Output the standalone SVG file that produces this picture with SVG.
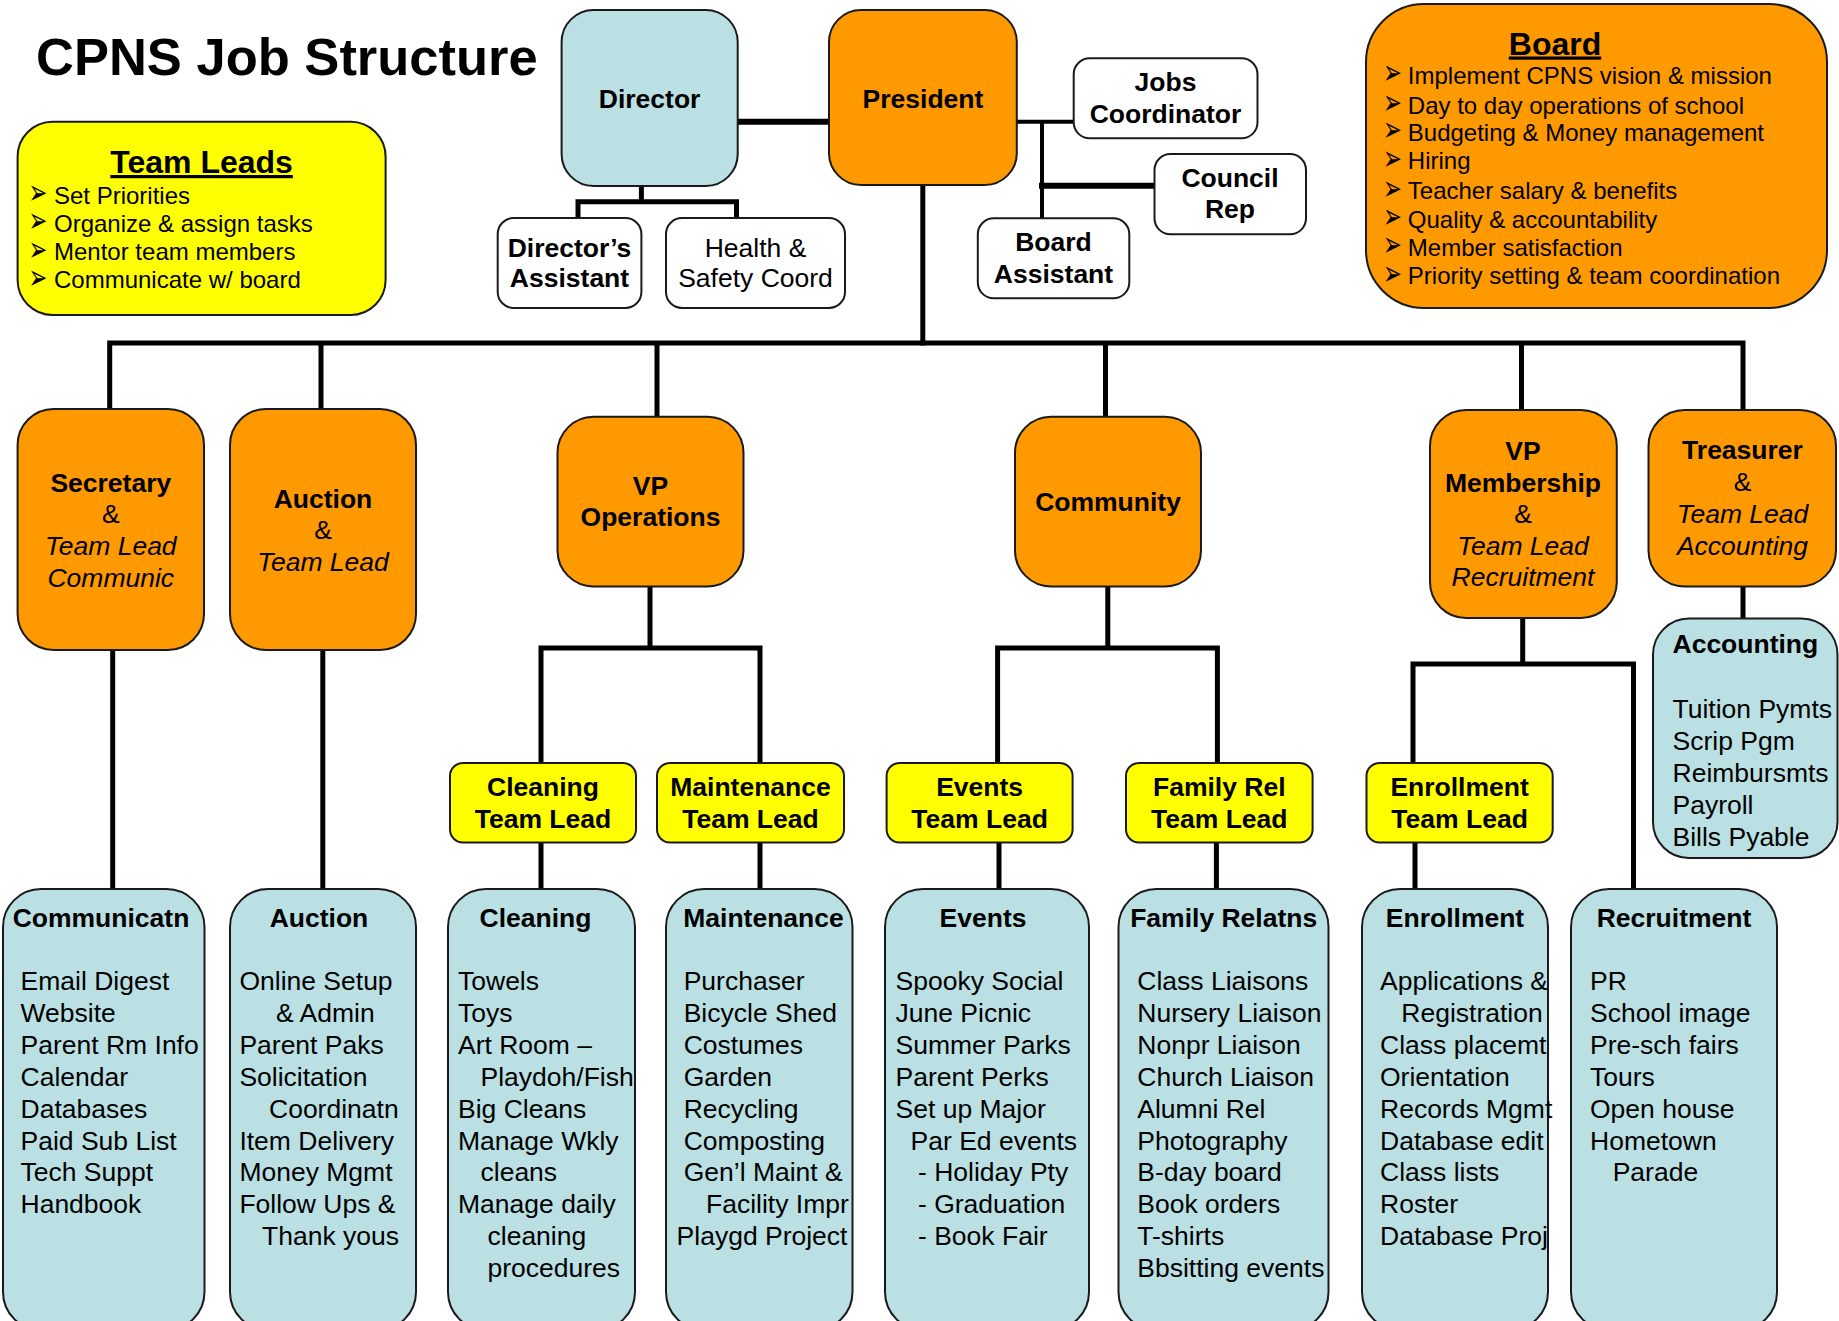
<svg xmlns="http://www.w3.org/2000/svg" width="1839" height="1321" viewBox="0 0 1839 1321">
<style>
text{font-family:"Liberation Sans",Arial,sans-serif;font-size:26.5px;fill:#000}
.b{font-weight:bold}
.i{font-style:italic}
.c{text-anchor:middle}
.h{font-size:32px;font-weight:bold;text-decoration:underline}
.s{font-size:24px}
.ar{font-family:"DejaVu Sans",sans-serif;font-size:30px}
.box{stroke:#1a1a1a;stroke-width:2}
.or{fill:#FF9900}
.yl{fill:#FFFF00}
.bl{fill:#BAE0E4}
.wh{fill:#FFFFFF}
.ln{stroke:#000;stroke-width:5;fill:none;stroke-linecap:square;stroke-linejoin:miter}
.thin{stroke-width:4}
.thick{stroke-width:6}
</style>
<rect width="1839" height="1321" fill="#fff"/>
<g id="connectors">
<path class="ln thick" d="M737.7 121.7H829"/>
<path class="ln" d="M641.4 186V201.7M578 218V201.7H736.5V218"/>
<path class="ln thin" d="M1016.8 121.7H1073.7M1042 121.7V218.3"/>
<path class="ln thick" d="M1042 185.7H1154.5"/>
<path class="ln" d="M922.8 185V343"/>
<path class="ln" d="M109.7 409V343H1743V410M321 343V409M657 343V417M1105.5 343V417M1521.5 343V410"/>
<path class="ln" d="M112.7 650V889M322.8 650V889"/>
<path class="ln" d="M650 586V648M541 763V648H760V763M541 842V889M760 842V889"/>
<path class="ln" d="M1107.8 586V648M997.6 763V648H1217.4V763M999 842V889M1216.4 842V889"/>
<path class="ln" d="M1522.7 618V664M1413 763V664H1633.5V889M1415 842V889"/>
<path class="ln" d="M1743 586V618"/>
</g>
<g id="title"><text x="36" y="75" style="font-size:52.5px;font-weight:bold">CPNS Job Structure</text></g>
<g id="team-leads">
<rect class="box yl" x="17.6" y="121.7" width="368" height="193.3" rx="35"/>
<text class="h c" x="201.6" y="173">Team Leads</text>
<text class="ar" transform="translate(28.5 204) scale(0.75 1.15)">➢</text><text class="s" x="54" y="203.5">Set Priorities</text>
<text class="ar" transform="translate(28.5 232) scale(0.75 1.15)">➢</text><text class="s" x="54" y="231.5">Organize &amp; assign tasks</text>
<text class="ar" transform="translate(28.5 260.6) scale(0.75 1.15)">➢</text><text class="s" x="54" y="260.1">Mentor team members</text>
<text class="ar" transform="translate(28.5 288.6) scale(0.75 1.15)">➢</text><text class="s" x="54" y="288.1">Communicate w/ board</text>
</g>
<g id="director">
<rect class="box bl" x="561.6" y="10" width="176.1" height="176" rx="32"/>
<text class="b c" x="649.6" y="107.5">Director</text>
</g>
<g id="president">
<rect class="box or" x="829" y="10" width="187.8" height="175" rx="32"/>
<text class="b c" x="923" y="107.5">President</text>
</g>
<g id="directors-assistant">
<rect class="box wh" x="497.7" y="218" width="143.7" height="90" rx="16"/>
<text class="b c" x="569.5" y="256.7">Director’s</text>
<text class="b c" x="569.5" y="287.3">Assistant</text>
</g>
<g id="health-safety">
<rect class="box wh" x="666" y="218" width="179" height="90" rx="16"/>
<text class="c" x="755.5" y="256.7">Health &amp;</text>
<text class="c" x="755.5" y="287.3">Safety Coord</text>
</g>
<g id="jobs-coordinator">
<rect class="box wh" x="1073.7" y="58.3" width="183.8" height="80" rx="16"/>
<text class="b c" x="1165.5" y="90.7">Jobs</text>
<text class="b c" x="1165.5" y="123.3">Coordinator</text>
</g>
<g id="council-rep">
<rect class="box wh" x="1154.5" y="154" width="151.5" height="80.3" rx="16"/>
<text class="b c" x="1230" y="187.3">Council</text>
<text class="b c" x="1230" y="218.3">Rep</text>
</g>
<g id="board-assistant">
<rect class="box wh" x="977.8" y="218.3" width="151.5" height="80" rx="16"/>
<text class="b c" x="1053.5" y="250.7">Board</text>
<text class="b c" x="1053.5" y="282.7">Assistant</text>
</g>
<g id="board">
<rect class="box or" x="1366" y="4" width="461" height="304" rx="58"/>
<text class="h c" x="1555" y="54.5">Board</text>
<text class="ar" transform="translate(1383 84) scale(0.75 1.15)">➢</text><text class="s" x="1407.8" y="83.5">Implement CPNS vision &amp; mission</text>
<text class="ar" transform="translate(1383 114) scale(0.75 1.15)">➢</text><text class="s" x="1407.8" y="113.5">Day to day operations of school</text>
<text class="ar" transform="translate(1383 141.3) scale(0.75 1.15)">➢</text><text class="s" x="1407.8" y="140.8">Budgeting &amp; Money management</text>
<text class="ar" transform="translate(1383 169.6) scale(0.75 1.15)">➢</text><text class="s" x="1407.8" y="169.1">Hiring</text>
<text class="ar" transform="translate(1383 199.6) scale(0.75 1.15)">➢</text><text class="s" x="1407.8" y="199.1">Teacher salary &amp; benefits</text>
<text class="ar" transform="translate(1383 228) scale(0.75 1.15)">➢</text><text class="s" x="1407.8" y="227.5">Quality &amp; accountability</text>
<text class="ar" transform="translate(1383 256.3) scale(0.75 1.15)">➢</text><text class="s" x="1407.8" y="255.8">Member satisfaction</text>
<text class="ar" transform="translate(1383 284.6) scale(0.75 1.15)">➢</text><text class="s" x="1407.8" y="284.1">Priority setting &amp; team coordination</text>
</g>
<g id="secretary">
<rect class="box or" x="17.6" y="409" width="186.4" height="241" rx="36"/>
<text class="b c" x="110.8" y="492">Secretary</text>
<text class="c" x="110.8" y="523">&amp;</text>
<text class="i c" x="110.8" y="555">Team Lead</text>
<text class="i c" x="110.8" y="587">Communic</text>
</g>
<g id="auction-lead">
<rect class="box or" x="230" y="409" width="186" height="241" rx="36"/>
<text class="b c" x="323" y="507.5">Auction</text>
<text class="c" x="323" y="539">&amp;</text>
<text class="i c" x="323" y="571">Team Lead</text>
</g>
<g id="vp-operations">
<rect class="box or" x="557.5" y="416.8" width="186" height="169.6" rx="36"/>
<text class="b c" x="650.5" y="495">VP</text>
<text class="b c" x="650.5" y="526.4">Operations</text>
</g>
<g id="community">
<rect class="box or" x="1015" y="416.8" width="186" height="169.6" rx="36"/>
<text class="b c" x="1108" y="511">Community</text>
</g>
<g id="vp-membership">
<rect class="box or" x="1430" y="410" width="186.8" height="208" rx="36"/>
<text class="b c" x="1523" y="460">VP</text>
<text class="b c" x="1523" y="491.8">Membership</text>
<text class="c" x="1523" y="523">&amp;</text>
<text class="i c" x="1523" y="555">Team Lead</text>
<text class="i c" x="1523" y="586.4">Recruitment</text>
</g>
<g id="treasurer">
<rect class="box or" x="1648.5" y="410" width="187.5" height="176.4" rx="36"/>
<text class="b c" x="1742.5" y="458.6">Treasurer</text>
<text class="c" x="1742.5" y="490.7">&amp;</text>
<text class="i c" x="1742.5" y="523">Team Lead</text>
<text class="i c" x="1742.5" y="555">Accounting</text>
</g>
<g id="accounting">
<rect class="box bl" x="1653" y="618.6" width="184.5" height="239.4" rx="36"/>
<text class="b" x="1672.5" y="653">Accounting</text>
<text x="1672.5" y="717.5">Tuition Pymts</text>
<text x="1672.5" y="749.6">Scrip Pgm</text>
<text x="1672.5" y="781.8">Reimbursmts</text>
<text x="1672.5" y="814">Payroll</text>
<text x="1672.5" y="846">Bills Pyable</text>
</g>
<g id="cleaning-tl">
<rect class="box yl" x="450" y="763" width="186" height="79.5" rx="13"/>
<text class="b c" x="543" y="796">Cleaning</text>
<text class="b c" x="543" y="828">Team Lead</text>
</g>
<g id="maintenance-tl">
<rect class="box yl" x="657" y="763" width="187" height="79.5" rx="13"/>
<text class="b c" x="750.5" y="796">Maintenance</text>
<text class="b c" x="750.5" y="828">Team Lead</text>
</g>
<g id="events-tl">
<rect class="box yl" x="886.6" y="763" width="186" height="79.5" rx="13"/>
<text class="b c" x="979.6" y="796">Events</text>
<text class="b c" x="979.6" y="828">Team Lead</text>
</g>
<g id="family-rel-tl">
<rect class="box yl" x="1126" y="763" width="186.6" height="79.5" rx="13"/>
<text class="b c" x="1219.3" y="796">Family Rel</text>
<text class="b c" x="1219.3" y="828">Team Lead</text>
</g>
<g id="enrollment-tl">
<rect class="box yl" x="1366.5" y="763" width="186.2" height="79.5" rx="13"/>
<text class="b c" x="1459.6" y="796">Enrollment</text>
<text class="b c" x="1459.6" y="828">Team Lead</text>
</g>
<g id="communicatn">
<rect class="box bl" x="3" y="889" width="201.5" height="441" rx="38"/>
<text class="b c" x="101" y="927">Communicatn</text>
<text x="20.5" y="990">Email Digest</text>
<text x="20.5" y="1022">Website</text>
<text x="20.5" y="1053.8">Parent Rm Info</text>
<text x="20.5" y="1085.7">Calendar</text>
<text x="20.5" y="1117.6">Databases</text>
<text x="20.5" y="1149.5">Paid Sub List</text>
<text x="20.5" y="1181.4">Tech Suppt</text>
<text x="20.5" y="1213.3">Handbook</text>
</g>
<g id="auction">
<rect class="box bl" x="230" y="889" width="186" height="441" rx="38"/>
<text class="b c" x="319" y="927">Auction</text>
<text x="239.4" y="990">Online Setup</text>
<text x="276" y="1022">&amp; Admin</text>
<text x="239.4" y="1053.8">Parent Paks</text>
<text x="239.4" y="1085.7">Solicitation</text>
<text x="269" y="1117.6">Coordinatn</text>
<text x="239.4" y="1149.5">Item Delivery</text>
<text x="239.4" y="1181.4">Money Mgmt</text>
<text x="239.4" y="1213.3">Follow Ups &amp;</text>
<text x="262" y="1245.2">Thank yous</text>
</g>
<g id="cleaning">
<rect class="box bl" x="448" y="889" width="187" height="441" rx="38"/>
<text class="b c" x="535.5" y="927">Cleaning</text>
<text x="458" y="990">Towels</text>
<text x="458" y="1022">Toys</text>
<text x="458" y="1053.8">Art Room –</text>
<text x="480.5" y="1085.7">Playdoh/Fish</text>
<text x="458" y="1117.6">Big Cleans</text>
<text x="458" y="1149.5">Manage Wkly</text>
<text x="480.5" y="1181.4">cleans</text>
<text x="458" y="1213.3">Manage daily</text>
<text x="487.5" y="1245.2">cleaning</text>
<text x="487.5" y="1277.1">procedures</text>
</g>
<g id="maintenance">
<rect class="box bl" x="666" y="889" width="186.5" height="441" rx="38"/>
<text class="b c" x="763.5" y="927">Maintenance</text>
<text x="683.7" y="990">Purchaser</text>
<text x="683.7" y="1022">Bicycle Shed</text>
<text x="683.7" y="1053.8">Costumes</text>
<text x="683.7" y="1085.7">Garden</text>
<text x="683.7" y="1117.6">Recycling</text>
<text x="683.7" y="1149.5">Composting</text>
<text x="683.7" y="1181.4">Gen’l Maint &amp;</text>
<text x="706" y="1213.3">Facility Impr</text>
<text x="676.6" y="1245.2">Playgd Project</text>
</g>
<g id="events">
<rect class="box bl" x="885" y="889" width="204" height="441" rx="38"/>
<text class="b c" x="983" y="927">Events</text>
<text x="895.5" y="990">Spooky Social</text>
<text x="895.5" y="1022">June Picnic</text>
<text x="895.5" y="1053.8">Summer Parks</text>
<text x="895.5" y="1085.7">Parent Perks</text>
<text x="895.5" y="1117.6">Set up Major</text>
<text x="910.6" y="1149.5">Par Ed events</text>
<text x="918" y="1181.4">- Holiday Pty</text>
<text x="918" y="1213.3">- Graduation</text>
<text x="918" y="1245.2">- Book Fair</text>
</g>
<g id="family-relatns">
<rect class="box bl" x="1118.5" y="889" width="210" height="441" rx="38"/>
<text class="b c" x="1223.7" y="927">Family Relatns</text>
<text x="1137.3" y="990">Class Liaisons</text>
<text x="1137.3" y="1022">Nursery Liaison</text>
<text x="1137.3" y="1053.8">Nonpr Liaison</text>
<text x="1137.3" y="1085.7">Church Liaison</text>
<text x="1137.3" y="1117.6">Alumni Rel</text>
<text x="1137.3" y="1149.5">Photography</text>
<text x="1137.3" y="1181.4">B-day board</text>
<text x="1137.3" y="1213.3">Book orders</text>
<text x="1137.3" y="1245.2">T-shirts</text>
<text x="1137.3" y="1277.1">Bbsitting events</text>
</g>
<g id="enrollment">
<rect class="box bl" x="1362" y="889" width="186" height="441" rx="38"/>
<text class="b c" x="1455" y="927">Enrollment</text>
<text x="1380" y="990">Applications &amp;</text>
<text x="1401.3" y="1022">Registration</text>
<text x="1380" y="1053.8">Class placemt</text>
<text x="1380" y="1085.7">Orientation</text>
<text x="1380" y="1117.6">Records Mgmt</text>
<text x="1380" y="1149.5">Database edit</text>
<text x="1380" y="1181.4">Class lists</text>
<text x="1380" y="1213.3">Roster</text>
<text x="1380" y="1245.2">Database Proj</text>
</g>
<g id="recruitment">
<rect class="box bl" x="1571" y="889" width="206" height="441" rx="38"/>
<text class="b c" x="1674" y="927">Recruitment</text>
<text x="1590" y="990">PR</text>
<text x="1590" y="1022">School image</text>
<text x="1590" y="1053.8">Pre-sch fairs</text>
<text x="1590" y="1085.7">Tours</text>
<text x="1590" y="1117.6">Open house</text>
<text x="1590" y="1149.5">Hometown</text>
<text x="1612.7" y="1181.4">Parade</text>
</g>
</svg>
